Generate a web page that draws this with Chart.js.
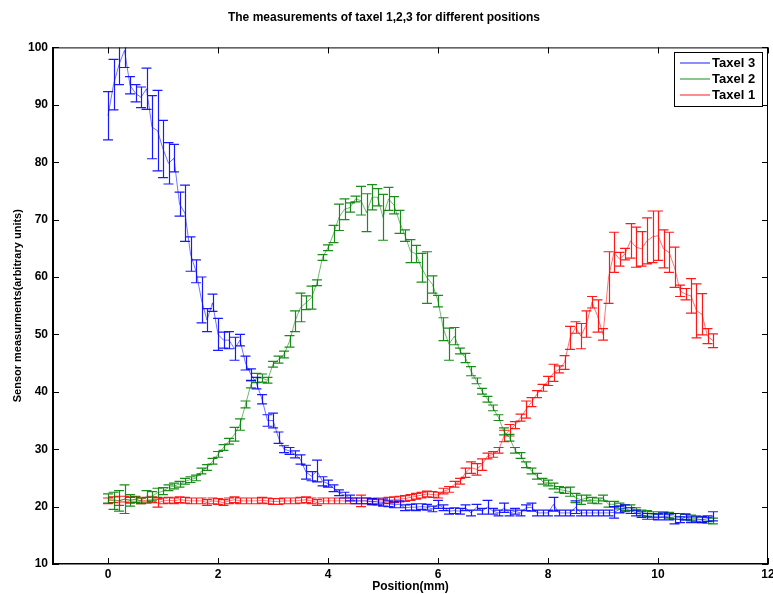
<!DOCTYPE html>
<html>
<head>
<meta charset="utf-8">
<script src="https://cdn.jsdelivr.net/npm/chart.js@4.4.1/dist/chart.umd.min.js"></script>
<style>
  html, body { margin: 0; padding: 0; background: #fff; }
  #wrap { width: 773px; height: 594px; position: relative; }
</style>
</head>
<body>
<div id="wrap"><canvas id="chart"></canvas></div>
<script>
// ─── DATA ───────────────────────────────
const positions = [
  0.0, 0.1, 0.2, 0.3, 0.4, 0.5, 0.6, 0.7, 0.8, 0.9,
  1.0, 1.1, 1.2, 1.3, 1.4, 1.5, 1.6, 1.7, 1.8, 1.9,
  2.0, 2.1, 2.2, 2.3, 2.4, 2.5, 2.6, 2.7, 2.8, 2.9,
  3.0, 3.1, 3.2, 3.3, 3.4, 3.5, 3.6, 3.7, 3.8, 3.9,
  4.0, 4.1, 4.2, 4.3, 4.4, 4.5, 4.6, 4.7, 4.8, 4.9,
  5.0, 5.1, 5.2, 5.3, 5.4, 5.5, 5.6, 5.7, 5.8, 5.9,
  6.0, 6.1, 6.2, 6.3, 6.4, 6.5, 6.6, 6.7, 6.8, 6.9,
  7.0, 7.1, 7.2, 7.3, 7.4, 7.5, 7.6, 7.7, 7.8, 7.9,
  8.0, 8.1, 8.2, 8.3, 8.4, 8.5, 8.6, 8.7, 8.8, 8.9,
  9.0, 9.1, 9.2, 9.3, 9.4, 9.5, 9.6, 9.7, 9.8, 9.9,
  10.0, 10.1, 10.2, 10.3, 10.4, 10.5, 10.6, 10.7, 10.8, 10.9,
  11.0
];

const taxel3 = [
  88.1, 93.5, 97.0, 99.5, 93.4, 92.0, 91.3, 92.8, 86.1, 85.5,
  82.3, 79.8, 80.7, 72.7, 71.1, 64.0, 61.0, 56.0, 52.5, 55.5,
  50.0, 49.0, 49.0, 47.5, 49.0, 45.0, 43.0, 41.5, 38.7, 35.0,
  35.0, 32.0, 30.0, 29.7, 29.1, 28.2, 26.0, 25.3, 26.2, 24.4,
  24.0, 23.2, 22.4, 22.0, 21.5, 21.0, 21.0, 21.0, 20.9, 20.8,
  20.7, 20.5, 20.3, 20.4, 19.8, 19.9, 19.9, 20.0, 19.9, 19.6,
  20.4, 19.8, 19.2, 19.3, 19.2, 19.8, 18.9, 19.9, 19.2, 19.9,
  19.2, 18.9, 19.8, 18.9, 19.2, 18.9, 19.8, 19.9, 18.9, 18.9,
  18.9, 20.4, 18.9, 18.9, 18.9, 19.9, 18.9, 18.9, 18.9, 18.9,
  18.9, 18.9, 19.0, 19.5, 19.7, 19.3, 18.9, 18.6, 18.3, 18.3,
  18.2, 18.3, 18.2, 17.9, 17.7, 18.2, 17.7, 17.7, 17.7, 17.9,
  18.3
];
const taxel3Err = [
  4.2, 4.4, 3.5, 3.0, 1.5, 1.5, 1.8, 3.6, 5.5, 7.0,
  5.0, 3.6, 2.4, 2.1, 4.9, 3.0, 2.0, 4.0, 2.0, 1.5,
  2.8, 1.4, 1.5, 2.0, 1.0, 1.2, 1.0, 1.0, 0.8, 1.0,
  1.3, 1.0, 0.6, 0.6, 0.6, 0.8, 1.2, 0.8, 1.9, 0.8,
  0.6, 0.6, 0.5, 0.5, 0.5, 0.5, 0.5, 0.5, 0.5, 0.5,
  0.6, 0.5, 0.5, 0.6, 0.5, 0.5, 0.6, 0.5, 0.5, 0.5,
  0.7, 0.5, 0.5, 0.5, 0.5, 0.5, 0.5, 0.5, 0.5, 1.2,
  0.5, 0.5, 0.8, 0.5, 0.5, 0.5, 0.5, 0.7, 0.5, 0.5,
  0.5, 1.2, 0.5, 0.5, 0.5, 1.1, 0.5, 0.5, 0.5, 0.5,
  0.5, 0.5, 1.0, 0.6, 0.6, 0.5, 0.5, 0.5, 0.5, 0.5,
  0.5, 0.6, 0.5, 0.9, 0.5, 0.5, 0.5, 0.5, 0.5, 0.5,
  0.8
];

const taxel2 = [
  21.4, 21.0, 21.0, 21.3, 21.1, 21.2, 21.0, 21.8, 21.8, 22.4,
  22.7, 23.3, 23.6, 23.9, 24.4, 24.7, 25.0, 26.2, 26.8, 27.9,
  29.1, 30.3, 31.4, 32.6, 34.3, 37.8, 41.3, 42.4, 42.4, 42.0,
  44.8, 45.6, 46.5, 48.8, 52.3, 54.7, 55.5, 56.4, 59.0, 63.4,
  65.1, 67.5, 70.4, 71.8, 72.1, 73.6, 73.3, 71.2, 73.9, 73.9,
  70.4, 73.6, 72.5, 69.6, 67.2, 64.5, 64.0, 61.6, 59.9, 58.7,
  55.8, 50.9, 48.3, 49.7, 47.1, 45.9, 43.6, 41.9, 40.1, 38.7,
  37.2, 35.5, 33.1, 32.0, 29.8, 28.9, 27.3, 26.2, 25.3, 24.4,
  24.1, 23.6, 23.0, 22.8, 22.6, 21.5, 21.2, 21.5, 21.1, 21.0,
  21.5, 20.4, 20.4, 20.1, 19.8, 19.8, 19.3, 18.9, 18.8, 18.6,
  18.6, 18.6, 18.5, 18.3, 18.3, 18.2, 18.0, 17.9, 17.7, 17.6,
  17.5
];
const taxel2Err = [
  0.8, 1.5, 1.8, 2.5, 1.0, 0.5, 0.5, 1.0, 0.8, 0.8,
  0.6, 0.5, 0.5, 0.5, 0.5, 0.5, 0.5, 0.5, 0.5, 0.5,
  0.5, 0.5, 0.5, 1.2, 1.0, 0.6, 0.6, 0.8, 0.7, 0.5,
  0.5, 0.6, 0.6, 1.0, 1.8, 2.5, 1.2, 2.0, 0.5, 0.5,
  0.5, 1.5, 2.3, 1.8, 0.8, 0.5, 2.5, 3.3, 2.2, 1.5,
  4.0, 2.0, 1.5, 2.0, 1.0, 2.0, 1.5, 2.5, 4.5, 1.5,
  1.0, 2.0, 2.8, 1.5, 0.5, 0.8, 0.8, 0.5, 0.5, 0.5,
  0.5, 0.5, 0.6, 0.6, 0.5, 0.5, 0.5, 0.5, 0.5, 0.5,
  0.5, 0.5, 0.5, 0.5, 0.8, 0.8, 0.8, 0.5, 0.5, 0.5,
  0.5, 0.5, 0.5, 0.5, 0.5, 0.5, 0.5, 0.5, 0.5, 0.5,
  0.5, 0.5, 0.5, 0.5, 0.5, 0.5, 0.5, 0.5, 0.5, 0.5,
  0.5
];

const taxel1 = [
  21.0, 21.2, 21.0, 21.3, 21.1, 21.3, 21.0, 21.1, 21.2, 20.6,
  21.0, 21.1, 21.0, 21.2, 21.1, 21.0, 21.0, 21.0, 20.7, 21.0,
  20.9, 20.7, 21.0, 21.2, 21.0, 21.0, 21.0, 21.0, 21.1, 21.0,
  20.9, 20.9, 21.0, 21.0, 21.0, 21.1, 21.2, 21.0, 20.7, 21.0,
  21.0, 21.0, 21.0, 21.0, 21.0, 21.0, 21.0, 21.0, 20.8, 21.0,
  21.0, 21.1, 21.2, 21.3, 21.4, 21.6, 21.8, 22.0, 22.2, 22.1,
  22.0, 22.7, 23.0, 23.9, 24.4, 25.9, 26.8, 26.5, 27.3, 28.8,
  29.1, 29.8, 32.3, 33.3, 34.2, 35.5, 36.9, 38.2, 39.6, 40.7,
  41.9, 43.3, 43.9, 45.1, 49.4, 51.2, 49.7, 51.8, 55.6, 53.2,
  50.0, 59.9, 64.3, 63.1, 64.0, 66.3, 65.2, 64.9, 66.3, 67.0,
  67.2, 64.9, 64.3, 61.7, 57.6, 57.0, 56.7, 54.1, 53.5, 49.7,
  48.9
];
const taxel1Err = [
  0.5, 0.5, 0.8, 0.5, 0.5, 0.5, 0.5, 0.5, 0.5, 0.7,
  0.5, 0.5, 0.5, 0.5, 0.5, 0.5, 0.5, 0.5, 0.5, 0.5,
  0.5, 0.5, 0.5, 0.5, 0.5, 0.5, 0.5, 0.5, 0.5, 0.5,
  0.5, 0.5, 0.5, 0.5, 0.5, 0.5, 0.5, 0.5, 0.5, 0.5,
  0.5, 0.5, 0.5, 0.5, 0.5, 0.5, 1.0, 0.5, 0.5, 0.5,
  0.5, 0.5, 0.5, 0.5, 0.5, 0.5, 0.5, 0.5, 0.5, 0.5,
  0.5, 0.5, 0.5, 0.5, 0.5, 0.8, 1.0, 1.0, 1.0, 0.5,
  0.5, 0.5, 1.0, 1.0, 0.6, 0.6, 1.5, 0.8, 0.6, 0.6,
  0.8, 1.5, 0.6, 1.2, 2.0, 1.0, 2.2, 2.3, 1.0, 2.8,
  1.0, 4.5, 3.5, 1.2, 1.0, 3.0, 3.5, 3.0, 4.0, 4.5,
  4.3, 3.3, 3.5, 3.5, 1.0, 1.0, 3.0, 4.7, 3.6, 1.3,
  1.2
];

const seriesLabels = ['Taxel 3', 'Taxel 2', 'Taxel 1'];

// ─── HELPERS ────────────────────────────
const FONT = '"Liberation Sans", Arial, sans-serif';
const toPoints = ys => positions.map((x, i) => ({ x, y: ys[i] }));

function series(label, ys, errs, rgb) {
  return {
    label,
    data: toPoints(ys),
    errors: errs,
    keyColor: `rgba(${rgb},0.6)`,
    barColor: `rgba(${rgb},0.9)`,
    borderColor: `rgba(${rgb},0.55)`,
    backgroundColor: `rgba(${rgb},0.55)`,
    borderWidth: 1,
    pointRadius: 0,
    tension: 0,
    fill: false
  };
}

// ─── ERROR BARS (drawn per dataset, in plot order) ──
const errorBars = {
  id: 'errorBars',
  afterDatasetDraw(chart, args) {
    const ds = chart.data.datasets[args.index];
    const { ctx, chartArea: a, scales: { x, y } } = chart;
    ctx.save();
    ctx.beginPath();
    ctx.rect(a.left, a.top, a.right - a.left, a.bottom - a.top);
    ctx.clip();
    ctx.strokeStyle = ds.barColor;
    ctx.lineWidth = 1.2;
    ctx.beginPath();
    ds.data.forEach((p, i) => {
      const e = ds.errors[i];
      const px = Math.round(x.getPixelForValue(p.x)) + 0.5;
      const xl = x.getPixelForValue(p.x - 0.09);
      const xr = x.getPixelForValue(p.x + 0.09);
      const yt = y.getPixelForValue(p.y + e);
      const yb = y.getPixelForValue(p.y - e);
      ctx.moveTo(px, yt); ctx.lineTo(px, yb);
      ctx.moveTo(xl, yt); ctx.lineTo(xr, yt);
      ctx.moveTo(xl, yb); ctx.lineTo(xr, yb);
    });
    ctx.stroke();
    ctx.restore();
  }
};

// ─── BOX, INNER TICKS, LEGEND ───────────
const frame = {
  id: 'frame',
  afterDraw(chart) {
    const { ctx, chartArea: a, scales: { x, y } } = chart;
    ctx.save();
    ctx.strokeStyle = '#000';
    ctx.lineWidth = 1;
    ctx.strokeRect(a.left + 0.5, a.top + 0.5, a.right - a.left - 1, a.bottom - a.top - 1);
    ctx.beginPath();
    x.ticks.forEach(t => {
      const px = Math.round(x.getPixelForValue(t.value)) + 0.5;
      ctx.moveTo(px, a.bottom); ctx.lineTo(px, a.bottom - 6);
      ctx.moveTo(px, a.top); ctx.lineTo(px, a.top + 6);
    });
    y.ticks.forEach(t => {
      const py = Math.round(y.getPixelForValue(t.value)) + 0.5;
      ctx.moveTo(a.left, py); ctx.lineTo(a.left + 6, py);
      ctx.moveTo(a.right, py); ctx.lineTo(a.right - 6, py);
    });
    ctx.stroke();

    // legend box, top right inside the axes
    const lx = 674, ly = 52, lw = 88, lh = 54;
    ctx.fillStyle = '#fff';
    ctx.fillRect(lx, ly, lw, lh);
    ctx.strokeRect(lx + 0.5, ly + 0.5, lw, lh);
    ctx.font = `bold 13px ${FONT}`;
    ctx.textBaseline = 'middle';
    chart.data.datasets.forEach((ds, i) => {
      const yy = ly + 11 + i * 16;
      ctx.strokeStyle = ds.keyColor;
      ctx.lineWidth = 1.5;
      ctx.beginPath();
      ctx.moveTo(lx + 6, yy); ctx.lineTo(lx + 36, yy);
      ctx.stroke();
      ctx.fillStyle = '#000';
      ctx.fillText(ds.label, lx + 38, yy);
    });
    ctx.restore();
  }
};

// ─── CHART ──────────────────────────────
new Chart(document.getElementById('chart'), {
  type: 'line',
  data: {
    datasets: [
      series(seriesLabels[0], taxel3, taxel3Err, '0,0,255'),
      series(seriesLabels[1], taxel2, taxel2Err, '0,128,0'),
      series(seriesLabels[2], taxel1, taxel1Err, '255,0,0')
    ]
  },
  plugins: [errorBars, frame],
  options: {
    responsive: true,
    maintainAspectRatio: false,
    animation: false,
    layout: { padding: { left: 0, right: 5, top: 0, bottom: 0 } },
    plugins: {
      legend: { display: false },
      tooltip: { enabled: false },
      title: {
        display: true,
        text: 'The measurements of taxel 1,2,3 for different positions',
        color: '#000',
        font: { family: '"Liberation Sans Narrow", "Liberation Sans", Arial, sans-serif', size: 12, weight: 'bold' },
        padding: { top: 10, bottom: 23 }
      }
    },
    scales: {
      x: {
        type: 'linear',
        min: -1,
        max: 12,
        afterFit: s => { s.paddingLeft = 0; s.paddingRight = 0; s.height = 30; },
        ticks: {
          stepSize: 2,
          includeBounds: false,
          color: '#000',
          padding: 3,
          maxRotation: 0,
          font: { family: FONT, size: 12, weight: 'bold' }
        },
        grid: { drawOnChartArea: false, drawTicks: false },
        border: { display: true, color: '#000', width: 1.5 },
        title: {
          display: true,
          text: 'Position(mm)',
          color: '#000',
          padding: 0,
          font: { family: FONT, size: 12, weight: 'bold' }
        }
      },
      y: {
        min: 10,
        max: 100,
        afterFit: s => { s.paddingTop = 0; s.paddingBottom = 0; s.width = 53; },
        ticks: {
          stepSize: 10,
          color: '#000',
          padding: 5,
          font: { family: FONT, size: 12, weight: 'bold' }
        },
        grid: { drawOnChartArea: false, drawTicks: false },
        border: { display: true, color: '#000', width: 1.5 },
        title: {
          display: true,
          text: 'Sensor measurments(arbitrary units)',
          color: '#000',
          padding: { top: 11, bottom: 0 },
          font: { family: FONT, size: 11, weight: 'bold' }
        }
      }
    }
  }
});
</script>
</body>
</html>
